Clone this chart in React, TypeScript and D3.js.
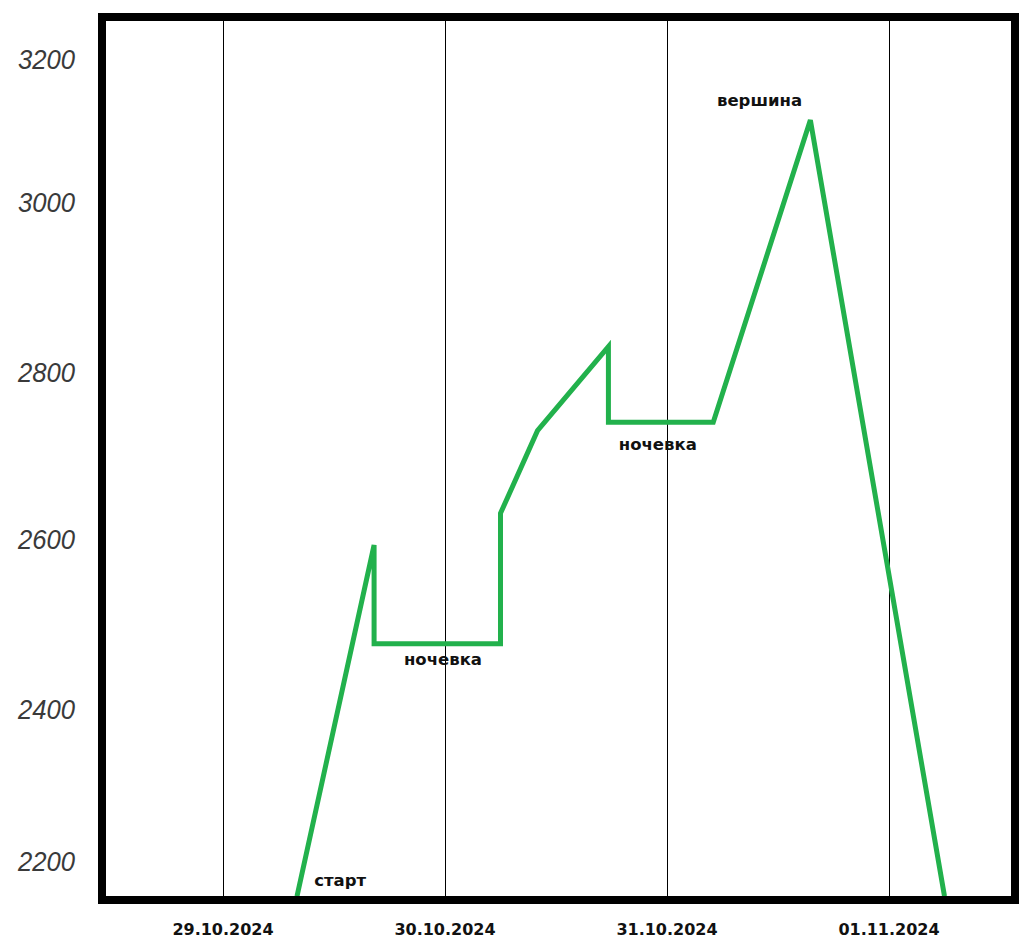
import React from "react";
import * as d3 from "d3";

// ---- data ----
const yTicks = [2200, 2400, 2600, 2800, 3000, 3200];
const dayTicks = ["2024-10-29", "2024-10-30", "2024-10-31", "2024-11-01"];
const dayLabels = ["29.10.2024", "30.10.2024", "31.10.2024", "01.11.2024"];

const trackTimes = [
  "2024-10-29T08:00",
  "2024-10-29T16:20",
  "2024-10-29T16:20",
  "2024-10-30T06:00",
  "2024-10-30T06:00",
  "2024-10-30T10:00",
  "2024-10-30T17:40",
  "2024-10-30T17:40",
  "2024-10-31T05:00",
  "2024-10-31T15:30",
  "2024-11-01T06:00",
];
const trackAltitudes = [2155, 2594, 2478, 2478, 2632, 2731, 2831, 2741, 2741, 3116, 2155];

const noteTexts = ["старт", "ночевка", "ночевка", "вершина"];
const noteTimes = ["2024-10-29T12:40", "2024-10-29T23:47", "2024-10-30T23:00", "2024-10-31T10:00"];
const noteAltitudes = [2176, 2459, 2714, 3144];

// ---- layout ----
const W = 1029;
const H = 948;
const frame = { x: 102, y: 17, w: 913, h: 883, stroke: 8 };

const parse = (s: string) => new Date(s);

export default function App() {
  const x = d3
    .scaleTime()
    .domain([parse(dayTicks[0]), parse(dayTicks[dayTicks.length - 1])])
    .range([223, 889]);

  // hand-drawn axis: uneven tick spacing reproduced with a piecewise scale
  const y = d3.scaleLinear().domain(yTicks).range([862, 710, 540, 373, 203, 60]);

  const line = d3
    .line<number>()
    .x((i) => x(parse(trackTimes[i])))
    .y((i) => y(trackAltitudes[i]));

  const idx = trackTimes.map((_, i) => i);

  return (
    <svg width={W} height={H} style={{ display: "block", position: "absolute", left: 0, top: 0 }}>
      <rect width={W} height={H} fill="#fff" />
      {/* vertical day lines */}
      {dayTicks.map((d) => {
        const px = Math.round(x(parse(d))) + 0.5;
        return (
          <line
            key={d}
            x1={px}
            x2={px}
            y1={frame.y}
            y2={frame.y + frame.h}
            stroke="#000"
            strokeWidth={1}
          />
        );
      })}
      {/* track */}
      <path
        d={line(idx) || ""}
        fill="none"
        stroke="#22b14c"
        strokeWidth={5}
        strokeLinejoin="miter"
      />
      {/* frame */}
      <rect
        x={frame.x}
        y={frame.y}
        width={frame.w}
        height={frame.h}
        fill="none"
        stroke="#000"
        strokeWidth={frame.stroke}
      />
      {/* y labels */}
      {yTicks.map((v) => (
        <text
          key={v}
          x={18}
          y={y(v)}
          dominantBaseline="central"
          fontFamily="Liberation Sans, Arial, sans-serif"
          fontStyle="italic"
          fontSize={27}
          fill="#3a3a3a"
          textLength={57}
          lengthAdjust="spacingAndGlyphs"
        >
          {v}
        </text>
      ))}
      {/* date labels */}
      {dayTicks.map((d, i) => (
        <text
          key={d}
          x={x(parse(d))}
          y={935}
          textAnchor="middle"
          fontFamily="DejaVu Sans, Verdana, sans-serif"
          fontWeight="bold"
          fontSize={16}
          fill="#111"
        >
          {dayLabels[i]}
        </text>
      ))}
      {/* annotations */}
      {noteTexts.map((t, i) => (
        <text
          key={i}
          x={x(parse(noteTimes[i]))}
          y={y(noteAltitudes[i])}
          textAnchor="middle"
          dominantBaseline="central"
          fontFamily="DejaVu Sans, Verdana, sans-serif"
          fontWeight="bold"
          fontSize={16.5}
          fill="#111"
        >
          {t}
        </text>
      ))}
    </svg>
  );
}
